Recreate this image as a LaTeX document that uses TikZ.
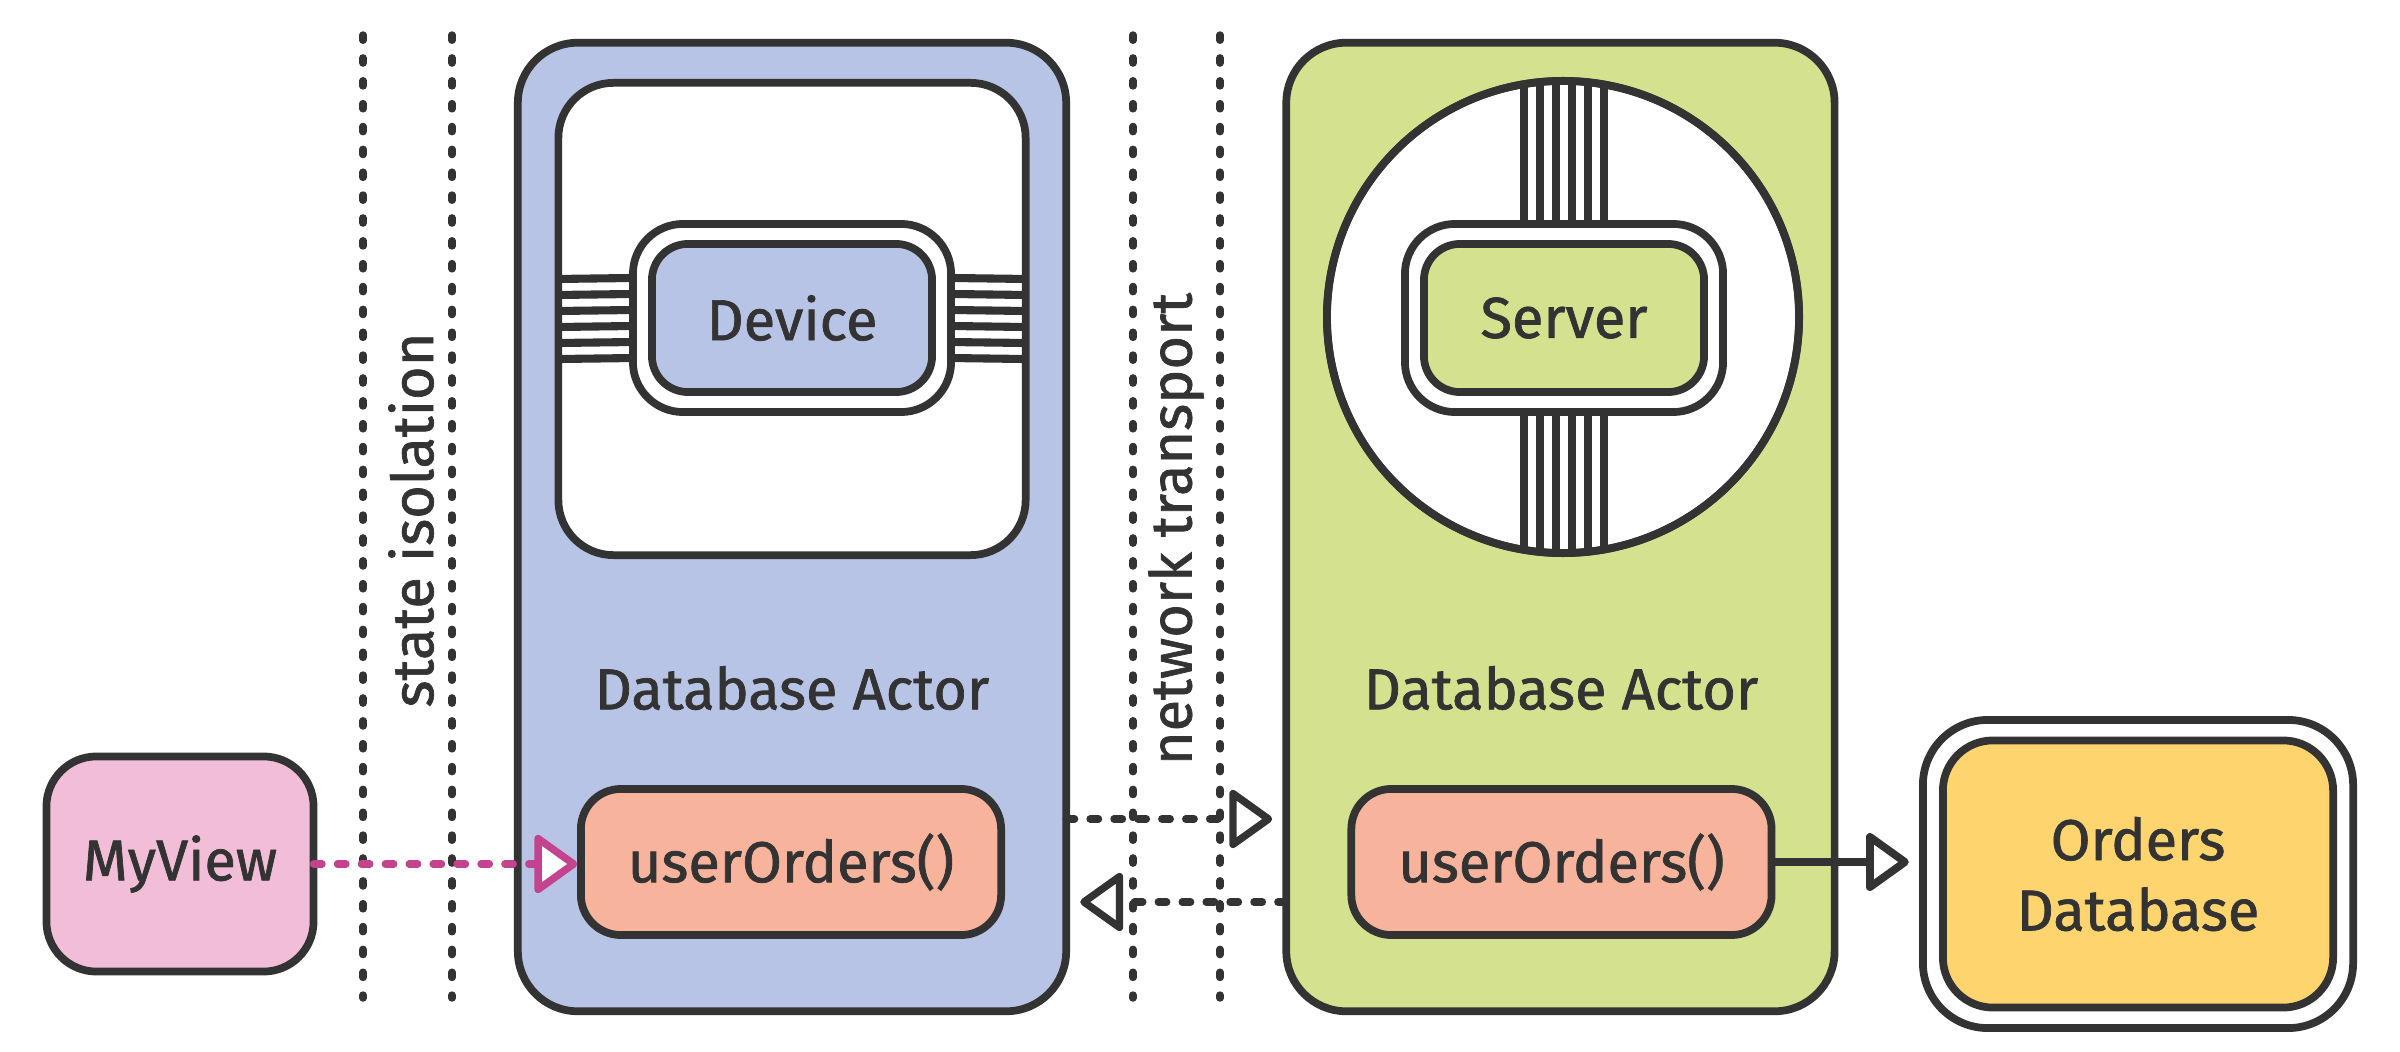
\documentclass[tikz,border=0pt]{standalone}
\usepackage{fontspec}
\setmainfont{Fira Sans}[FakeBold=1.2]
\usetikzlibrary{positioning,arrows.meta}
\definecolor{ink}{HTML}{333333}
\definecolor{devblue}{HTML}{B8C4E5}
\definecolor{srvgreen}{HTML}{D4E18E}
\definecolor{callsalmon}{HTML}{F7B39C}
\definecolor{viewpink}{HTML}{F2BDD6}
\definecolor{storeyellow}{HTML}{FED46E}
\definecolor{linkpink}{HTML}{C3438F}
\begin{document}
\begin{tikzpicture}[x=0.01cm, y=-0.01cm, color=ink, line width=2.2pt,
                    font=\fontsize{16.4pt}{20pt}\selectfont,
                    actorbox/.style={rectangle, draw, rounded corners=0.6cm, minimum width=5.48cm, minimum height=9.68cm, inner sep=0pt, outer sep=0pt},
                    windowbox/.style={rectangle, draw, fill=white, rounded corners=0.55cm, minimum width=4.67cm, minimum height=4.72cm, outer sep=0pt},
                    ringbox/.style={rectangle, draw, fill=white, rounded corners=0.5cm, minimum width=3.18cm, minimum height=1.88cm, outer sep=0pt},
                    corebox/.style={rectangle, draw, rounded corners=0.36cm, minimum width=2.8cm, minimum height=1.48cm, outer sep=0pt},
                    callbox/.style={rectangle, draw, fill=callsalmon, rounded corners=0.4cm, minimum width=4.2cm, minimum height=1.46cm, outer sep=0pt},
                    viewbox/.style={rectangle, draw, fill=viewpink, rounded corners=0.5cm, minimum width=2.67cm, minimum height=2.15cm, outer sep=0pt},
                    storering/.style={rectangle, draw, fill=white, rounded corners=0.65cm, minimum width=4.3cm, minimum height=3.08cm, outer sep=0pt},
                    storebox/.style={rectangle, draw, fill=storeyellow, rounded corners=0.5cm, minimum width=3.9cm, minimum height=2.67cm, align=center, outer sep=0pt},
                    stripe/.style={line width=2.3pt},
                    fence/.style={line width=2.1pt, line cap=round, dash pattern=on 1.5pt off 5pt},
                    dotlink/.style={line width=2.1pt, line cap=round, dash pattern=on 2.4pt off 4.4pt},
                    opentip/.style={-{Triangle[round, fill=white, length=13pt, width=18pt]}}]
                    \useasboundingbox (0,0) rectangle (2400,1052);

                    % isolation boundaries
                    \foreach \x in {363,452,1133,1220}
                        \draw[fence] (\x,35) -- (\x,998);
                    \node[rotate=90] (isolation) at (411,520) {state isolation};
                    \node[rotate=90] (transport) at (1176,529) {network transport};

                    % client side
                    \node[actorbox, fill=devblue] (clientactor) at (792,527) {};
                    \node[windowbox] (devicewin) at (792,319) {};
                    \node[ringbox] (devicering) at (792,318) {};
                    \node[corebox, fill=devblue] (device) at (792,318) {Device};
                    \foreach \d in {-40,-24,-8,8,24,40} {
                        \draw[stripe] ([yshift=\d*0.1mm]devicewin.west) -- ([yshift=\d*0.1mm]devicering.west);
                        \draw[stripe] ([yshift=\d*0.1mm]devicering.east) -- ([yshift=\d*0.1mm]devicewin.east);
                    }
                    \node (clientlabel) at (792,688) {Database Actor};
                    \node[callbox] (clientcall) at (791,862) {userOrders()};
                    \node[viewbox] (myview) at (180,864) {MyView};

                    % server side
                    \node[actorbox, fill=srvgreen] (serveractor) [right=2.2cm of clientactor] {};
                    \node[circle, draw, fill=white, minimum size=4.72cm, inner sep=0pt, outer sep=0pt] (serverwin) at (1563,317) {};
                    \node[ringbox] (serverring) at (1564,318) {};
                    \node[corebox, fill=srvgreen] (server) at (1564,318) {Server};
                    \begin{scope}
                        \clip (serverwin.center) circle (236);
                        \foreach \d in {-40,-24,-8,8,24,40} {
                            \draw[stripe] ([xshift=\d*0.1mm]serverring.north) -- ++(0,-300);
                            \draw[stripe] ([xshift=\d*0.1mm]serverring.south) -- ++(0,300);
                        }
                    \end{scope}
                    \draw (serverwin.center) circle (236);
                    \node (serverlabel) at (1561,688) {Database Actor};
                    \node[callbox] (servercall) [right=3.5cm of clientcall] {userOrders()};
                    \node[storering] (storering) at (2138,874) {};
                    \node[storebox] (store) at (2138,874) {Orders\\Database};

                    % calls
                    \coordinate (request) at (0,819);
                    \coordinate (reply) at (0,902);
                    \draw[dotlink, linkpink, opentip, shorten >=1pt] (myview.east) -- (myview.east -| clientcall.west);
                    \draw[dotlink, opentip, shorten >=4pt] (request -| clientactor.east) -- (request -| serveractor.west);
                    \draw[dotlink, opentip, shorten >=4pt] (reply -| serveractor.west) -- (reply -| clientactor.east);
                    \draw[opentip, shorten >=4pt] (servercall.east) -- (servercall.east -| storering.west);
                    \end{tikzpicture}
\end{document}
